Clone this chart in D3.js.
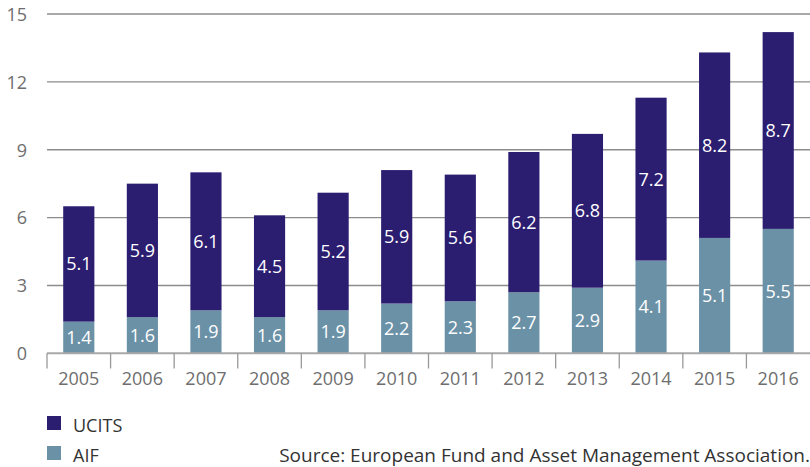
<!DOCTYPE html>
<html lang="en">
<head>
  <meta charset="UTF-8">
  <title>UCITS and AIF</title>
  <script src="https://d3js.org/d3.v7.min.js"></script>
  <style>
    body {
      margin: 0;
      background: #fff;
      font-family: "Open Sans", "Noto Sans", sans-serif;
    }
    .grid line { stroke: #8c8c8c; stroke-width: 1.4px; }
    .tick-label { fill: #6e6e6e; font-size: 18px; }
    .bar-label { fill: #fff; font-size: 18px; }
    .legend-label { fill: #333; font-size: 18px; }
    .source { fill: #333; font-size: 19px; }
  </style>
</head>
<body>
  <svg id="chart" width="810" height="467"></svg>
  <script>
    const years = ["2005", "2006", "2007", "2008", "2009", "2010", "2011", "2012", "2013", "2014", "2015", "2016"];
    const aif = [1.4, 1.6, 1.9, 1.6, 1.9, 2.2, 2.3, 2.7, 2.9, 4.1, 5.1, 5.5];
    const ucits = [5.1, 5.9, 6.1, 4.5, 5.2, 5.9, 5.6, 6.2, 6.8, 7.2, 8.2, 8.7];
    const yTicks = [0, 3, 6, 9, 12, 15];
    const seriesNames = ["UCITS", "AIF"];
    const colors = { UCITS: "#2b1d70", AIF: "#6b91a7" };
    const source = "Source: European Fund and Asset Management Association.";

    const svg = d3.select("#chart");

    const x = d3.scaleBand().domain(years).range([47, 810])
      .paddingInner(0.51).paddingOuter(0.255);
    const y = d3.scaleLinear().domain([0, 15]).range([353.3, 14]);
    const step = x.step();

    // grid lines
    svg.append("g").attr("class", "grid")
      .selectAll("line")
      .data(yTicks.filter(d => d > 0))
      .join("line")
      .attr("x1", 47).attr("x2", 810)
      .attr("y1", d => y(d)).attr("y2", d => y(d));

    // y labels
    svg.append("g").selectAll("text")
      .data(yTicks)
      .join("text")
      .attr("class", "tick-label")
      .attr("x", 27)
      .attr("y", d => y(d))
      .attr("dy", "0.38em")
      .attr("text-anchor", "end")
      .text(d => d);

    const rows = years.map((yr, i) => ({ year: yr, AIF: aif[i], UCITS: ucits[i] }));
    const stacked = d3.stack().keys(["AIF", "UCITS"])(rows);

    const layer = svg.append("g").selectAll("g")
      .data(stacked)
      .join("g")
      .attr("fill", s => colors[s.key]);

    layer.selectAll("rect")
      .data(s => s)
      .join("rect")
      .attr("x", d => x(d.data.year))
      .attr("width", x.bandwidth())
      .attr("y", d => y(d[1]))
      .attr("height", d => y(d[0]) - y(d[1]));

    layer.selectAll("text")
      .data(s => s.map(d => ({ d, key: s.key })))
      .join("text")
      .attr("class", "bar-label")
      .attr("x", o => x(o.d.data.year) + x.bandwidth() / 2)
      .attr("y", o => y((o.d[0] + o.d[1]) / 2))
      .attr("dy", "0.36em")
      .attr("text-anchor", "middle")
      .text(o => o.d.data[o.key].toFixed(1));

    // x axis
    const xAxis = svg.append("g");
    xAxis.append("line")
      .attr("x1", 47).attr("x2", 810)
      .attr("y1", y(0)).attr("y2", y(0))
      .attr("stroke", "#a8a8a8").attr("stroke-width", 2);
    xAxis.selectAll("line.tk")
      .data(years)
      .join("line")
      .attr("class", "tk")
      .attr("x1", d => x(d) + x.bandwidth() / 2 - step / 2)
      .attr("x2", d => x(d) + x.bandwidth() / 2 - step / 2)
      .attr("y1", y(0)).attr("y2", 368.5)
      .attr("stroke", "#999").attr("stroke-width", 1.3);
    xAxis.selectAll("text")
      .data(years)
      .join("text")
      .attr("class", "tick-label")
      .attr("x", d => x(d) + x.bandwidth() / 2)
      .attr("y", 385)
      .attr("text-anchor", "middle")
      .text(d => d);

    // legend
    const legend = svg.append("g").selectAll("g")
      .data(seriesNames)
      .join("g")
      .attr("transform", (d, i) => `translate(47,${416 + i * 30})`);
    legend.append("rect")
      .attr("width", 14).attr("height", 14)
      .attr("fill", d => colors[d]);
    legend.append("text")
      .attr("class", "legend-label")
      .attr("x", 26).attr("y", 16)
      .text(d => d);

    svg.append("text")
      .attr("class", "source")
      .attr("x", 810).attr("y", 462)
      .attr("text-anchor", "end")
      .text(source);
  </script>
</body>
</html>
